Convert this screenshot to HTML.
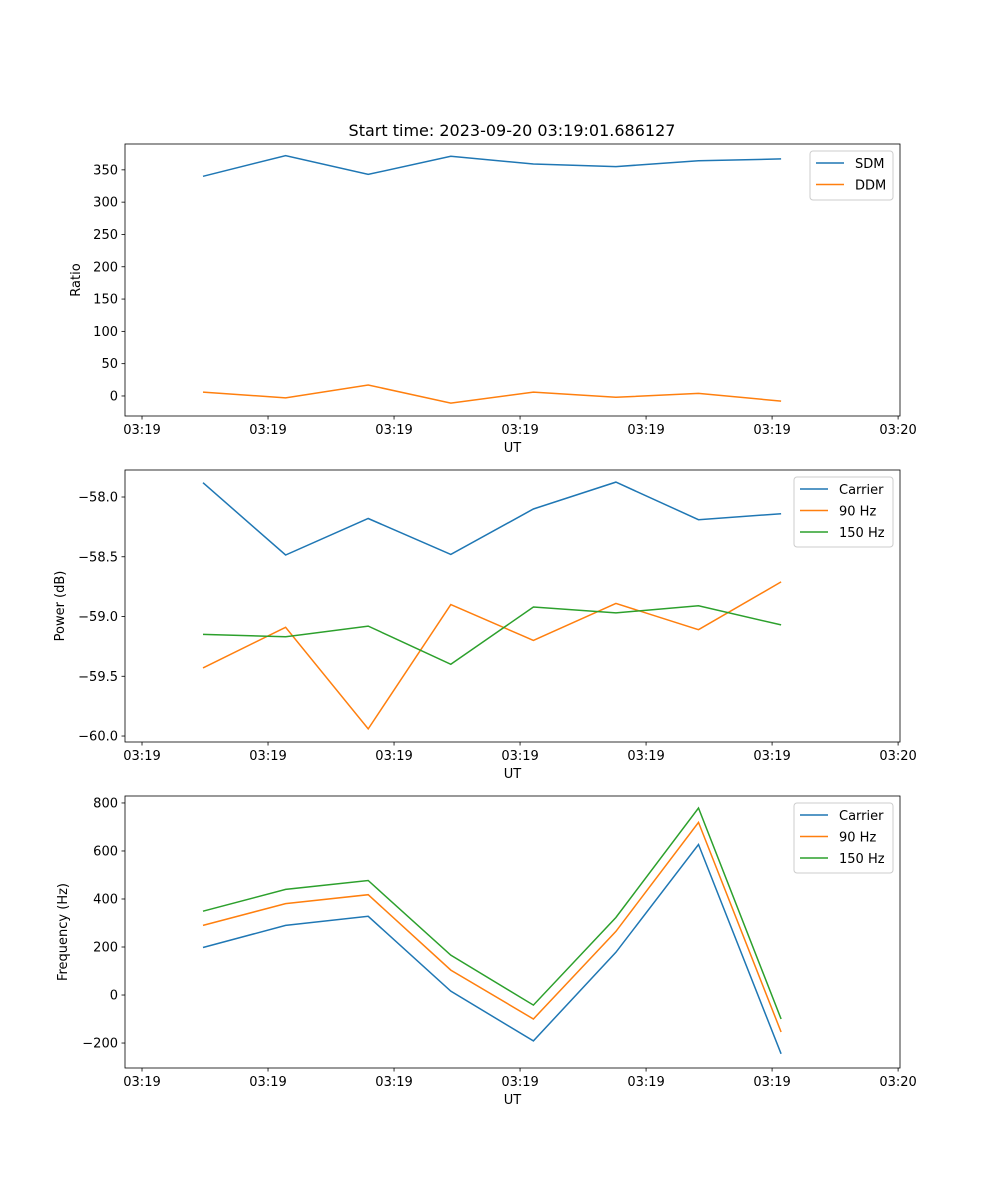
<!DOCTYPE html>
<html><head><meta charset="utf-8"><style>
body{margin:0;background:#fff;font-family:"DejaVu Sans","Liberation Sans",sans-serif}
svg text{font-family:"DejaVu Sans","Liberation Sans",sans-serif}
</style></head><body>
<svg id="fig" width="1000" height="1200" xmlns="http://www.w3.org/2000/svg">
<rect width="1000" height="1200" fill="#fff"/>
<text x="512" y="136" font-size="16" text-anchor="middle">Start time: 2023-09-20 03:19:01.686127</text>
</svg>
<script>
const sampleIdx=[0,1,2,3,4,5,6,7];
const xTickLabels=["03:19","03:19","03:19","03:19","03:19","03:19","03:20"];
const sdm=[340,372,343,371,359,355,364,367];
const ddm=[6,-3,17,-11,6,-2,4,-8];
const pCarrier=[-57.88,-58.485,-58.18,-58.48,-58.10,-57.875,-58.19,-58.14];
const p90=[-59.43,-59.09,-59.94,-58.90,-59.20,-58.89,-59.11,-58.71];
const p150=[-59.15,-59.17,-59.08,-59.40,-58.92,-58.97,-58.91,-59.07];
const fCarrier=[198,290,328,16,-191,178,627,-245];
const f90=[290,381,418,104,-100,265,719,-154];
const f150=[349,440,477,166,-42,323,779,-100];
const ratioTicks=[0,50,100,150,200,250,300,350];
const powerTicks=[-60.0,-59.5,-59.0,-58.5,-58.0];
const freqTicks=[-200,0,200,400,600,800];

const NS="http://www.w3.org/2000/svg";
const svg=document.getElementById('fig');
const C=['#1f77b4','#ff7f0e','#2ca02c'];
function mk(t,a,p){const e=document.createElementNS(NS,t);for(const k in a)e.setAttribute(k,a[k]);(p||svg).appendChild(e);return e;}
const L=125,R=900,xmin=-0.945,xmax=8.44;
const X=v=>L+(v-xmin)/(xmax-xmin)*(R-L);
const tickIdx0=-0.739,tickStep=1.526;

function panel(name,top,bot,ymin,ymax,yticks,fmt,ylabel,series,names,leg){
  const g=mk('g',{});
  
  
  const Y=v=>bot-(v-ymin)/(ymax-ymin)*(bot-top);
  series.forEach((s,k)=>{
    const d=s.map((v,i)=>(i?'L':'M')+X(sampleIdx[i]).toFixed(1)+' '+Y(v).toFixed(1)).join(' ');
    const p=mk('path',{d:d,fill:'none',stroke:C[k],'stroke-width':1.5},g);
    
    
  });
  const fr=mk('rect',{x:L,y:top,width:R-L,height:bot-top,fill:'none',stroke:'#000','stroke-width':0.8},g);
  
  
  xTickLabels.forEach((lab,j)=>{
    const x=X(tickIdx0+j*tickStep);
    mk('line',{x1:x,x2:x,y1:bot,y2:bot+3.5,stroke:'#000','stroke-width':0.8},g);
    const t=mk('text',{x:x,y:bot+18,'font-size':13,'text-anchor':'middle'},g);t.textContent=lab;
    
    
  });
  yticks.forEach(v=>{
    const y=Y(v);
    mk('line',{x1:L,x2:L-3.5,y1:y,y2:y,stroke:'#000','stroke-width':0.8},g);
    const t=mk('text',{x:L-7,y:y+4.5,'font-size':13,'text-anchor':'end'},g);t.textContent=fmt(v);
    
    
  });
  const xl=mk('text',{x:(L+R)/2,y:bot+36,'font-size':13,'text-anchor':'middle'},g);xl.textContent='UT';
  
  
  const ylx=leg.ylx, yc=(top+bot)/2;
  const yl=mk('text',{x:ylx,y:yc,'font-size':13,'text-anchor':'middle',transform:`rotate(-90 ${ylx} ${yc})`},g);yl.textContent=ylabel;
  
  
  const lg=mk('g',{},g);
  
  
  const h=names.length*21+7;
  mk('rect',{x:leg.x,y:top+7,width:893-leg.x,height:h,rx:3,fill:'#fff','fill-opacity':0.8,stroke:'#ccc'},lg);
  names.forEach((n,k)=>{
    const y=top+19+k*21.5;
    mk('line',{x1:leg.x+6,x2:leg.x+34,y1:y,y2:y,stroke:C[k],'stroke-width':1.5},lg);
    const t=mk('text',{x:leg.x+45,y:y+5,'font-size':13},lg);t.textContent=n;
    
    
  });
}
panel('ratio',144,416,-31,390,ratioTicks,v=>String(v),'Ratio',[sdm,ddm],['SDM','DDM'],{x:810,ylx:80});
panel('power',470,742,-60.05,-57.774,powerTicks,v=>v.toFixed(1).replace('-','\u2212'),'Power (dB)',[pCarrier,p90,p150],['Carrier','90 Hz','150 Hz'],{x:794,ylx:64});
panel('frequency',796,1068,-304,829,freqTicks,v=>String(v).replace('-','\u2212'),'Frequency (Hz)',[fCarrier,f90,f150],['Carrier','90 Hz','150 Hz'],{x:794,ylx:67});
</script>
</body></html>
